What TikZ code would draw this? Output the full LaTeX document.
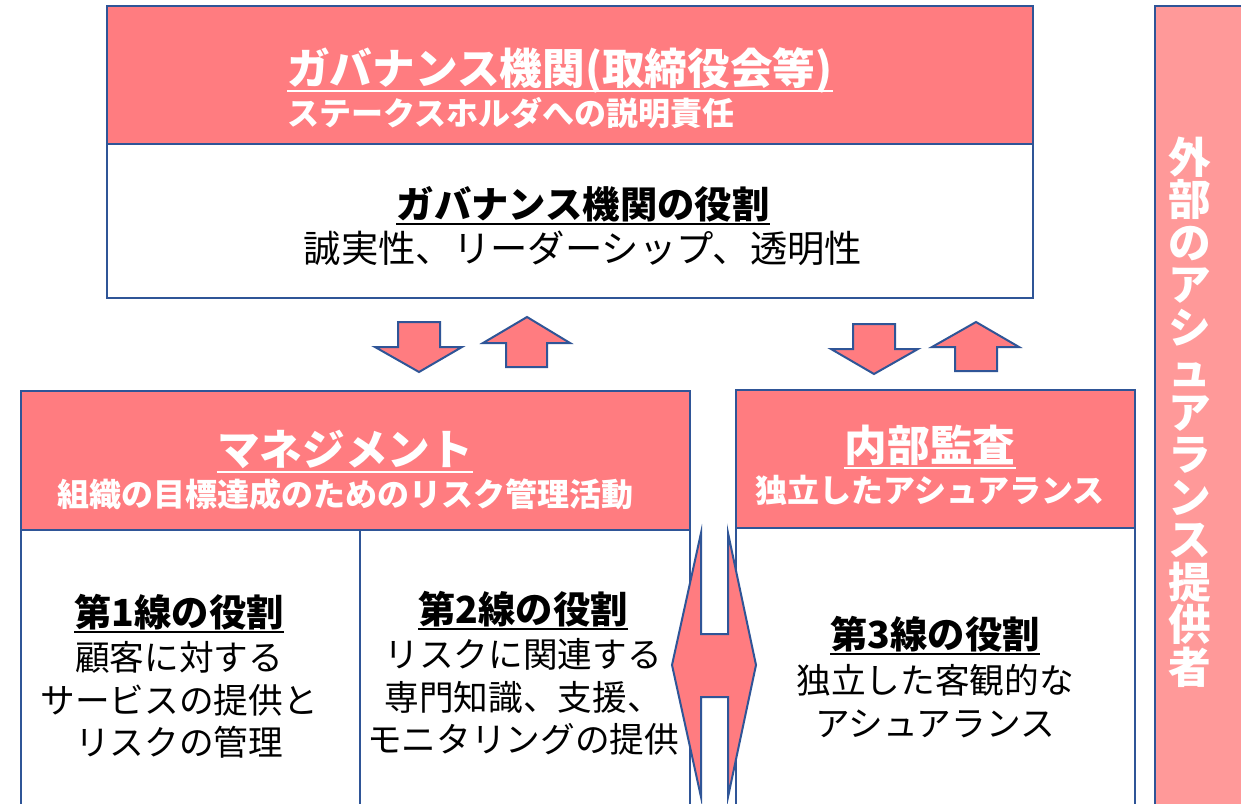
\documentclass[tikz,border=0pt]{standalone}
\usepackage{fontspec}
\newfontfamily\jp{Noto Sans CJK JP}
\usetikzlibrary{fit}
\definecolor{hdr}{HTML}{FF7C80}
\definecolor{extcol}{HTML}{FF9999}
\definecolor{bd}{HTML}{2F5597}
\tikzset{
  frame/.style={draw=bd, line width=1.5pt, inner sep=0pt},
  hbox/.style={frame, fill=hdr},
  wbox/.style={frame, fill=white},
  barrow/.style={draw=bd, line width=1.5pt, fill=hdr, line join=miter},
  tbig/.style={inner sep=0pt, font=\jp\bfseries\fontsize{32}{38}\selectfont, text=white, text height=28.2pt, text depth=3.8pt},
  tsubs/.style={inner sep=0pt, font=\jp\bfseries\fontsize{24}{28}\selectfont, text=white},
  trole/.style={inner sep=0pt, font=\jp\bfseries\fontsize{28}{32}\selectfont, text=black, text height=24.6pt, text depth=3.4pt},
  tbody/.style={inner sep=0pt, font=\jp\fontsize{26}{31.9}\selectfont, text=black, align=center},
  tvert/.style={inner sep=0pt, font=\jp\bfseries\fontsize{32}{31.9}\selectfont, text=white, align=center},
  ulw/.style={draw=white, line width=1.5pt},
  ulk/.style={draw=black, line width=1.5pt},
}
\begin{document}
\begin{tikzpicture}[x=0.75pt, y=-0.75pt]
\useasboundingbox (0,0) rectangle (1241,803);
\fill[white] (0,0) rectangle (1241,803);

% external assurance column
\node[frame, fill=extcol, fit={(1155,6)(1270,830)}] (ext) {};
\node[tvert] (extT) at (1190,412) {外\\部\\の\\ア\\シ\\ュ\\ア\\ラ\\ン\\ス\\提\\供\\者};

% governance body
\node[wbox, fit={(107,144)(1033,298)}] (govB) {};
\node[hbox, fit={(107,6)(1033,144)}] (govH) {};
\node[tbig, anchor=west] (govT) at (287,68) {ガバナンス機関(取締役会等)};
\draw[ulw] ([yshift=-1pt]govT.south west) -- ([yshift=-1pt]govT.south east);
\node[tsubs, anchor=west] (govS) at (287,113) {ステークスホルダへの説明責任};
\node[trole] (govRT) at (583,204) {ガバナンス機関の役割};
\draw[ulk] ([yshift=-1pt]govRT.south west) -- ([yshift=-1pt]govRT.south east);
\node[tbody, font=\jp\fontsize{28}{32}\selectfont] (govRB) at (583,248) {誠実性、リーダーシップ、透明性};

% management
\node[wbox, fit={(21,530)(360,830)}] (l1) {};
\node[wbox, fit={(360,530)(690,830)}] (l2) {};
\node[hbox, fit={(21,391)(690,530)}] (mgH) {};
\node[tbig] (mgT) at (345,449) {マネジメント};
\draw[ulw] ([yshift=-1pt]mgT.south west) -- ([yshift=-1pt]mgT.south east);
\node[tsubs] (mgS) at (345,494) {組織の目標達成のためのリスク管理活動};

% internal audit
\node[wbox, fit={(736,528)(1135,830)}] (l3) {};
\node[hbox, fit={(736,390)(1135,528)}] (iaH) {};
\node[tbig] (iaT) at (930,445) {内部監査};
\draw[ulw] ([yshift=-1pt]iaT.south west) -- ([yshift=-1pt]iaT.south east);
\node[tsubs] (iaS) at (930,490) {独立したアシュアランス};

% line roles
\node[trole] (l1T) at (179,612) {第1線の役割};
\draw[ulk] ([yshift=-1pt]l1T.south west) -- ([yshift=-1pt]l1T.south east);
\node[tbody] (l1B) at (179,700) {顧客に対する\\サービスの提供と\\リスクの管理};

\node[trole] (l2T) at (523,609) {第2線の役割};
\draw[ulk] ([yshift=-1pt]l2T.south west) -- ([yshift=-1pt]l2T.south east);
\node[tbody] (l2B) at (523,697) {リスクに関連する\\専門知識、支援、\\モニタリングの提供};

\node[trole] (l3T) at (935,634) {第3線の役割};
\draw[ulk] ([yshift=-1pt]l3T.south west) -- ([yshift=-1pt]l3T.south east);
\node[tbody] (l3B) at (935,701) {独立した客観的な\\アシュアランス};

% block arrows between governance and management
\draw[barrow] (398,322) -- (440,322) -- (440,347) -- (462,347) -- (419,372) -- (375,347) -- (398,347) -- cycle;
\draw[barrow] (527,317) -- (570,343) -- (547,343) -- (547,367) -- (506,367) -- (506,343) -- (483,343) -- cycle;
% block arrows between governance and internal audit
\draw[barrow] (853,324) -- (895,324) -- (895,349) -- (918,349) -- (874,374) -- (831,349) -- (853,349) -- cycle;
\draw[barrow] (976,322) -- (1019,347) -- (997,347) -- (997,371) -- (955,371) -- (955,347) -- (932,347) -- cycle;

% left-right arrow between management and internal audit
\draw[barrow] (672,665) -- (701,533) -- (701,634) -- (728,634) -- (728,533) -- (756,665)
  -- (728,797) -- (728,697) -- (701,697) -- (701,797) -- cycle;
\end{tikzpicture}
\end{document}
